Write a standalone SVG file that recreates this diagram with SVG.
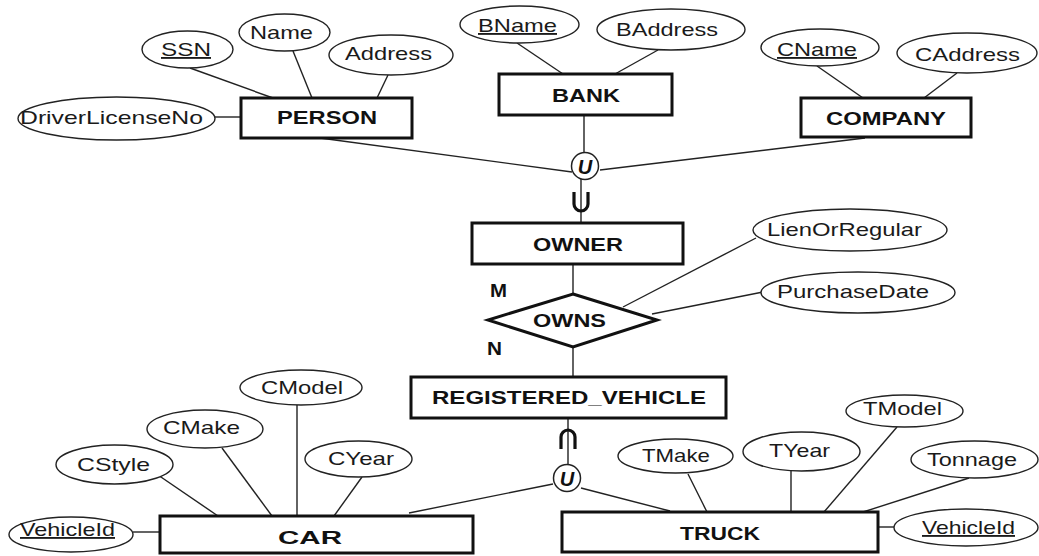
<svg xmlns="http://www.w3.org/2000/svg" width="1039" height="556" viewBox="0 0 1039 556">
  <style>
    .ent { fill: #fff; stroke: #111; stroke-width: 3; }
    .rel { fill: #fff; stroke: #111; stroke-width: 3; stroke-linejoin: miter; }
    .attr { fill: #fff; stroke: #222; stroke-width: 1.4; }
    .ln { stroke: #222; stroke-width: 1.4; fill: none; }
    .sym { stroke: #111; stroke-width: 3.2; fill: none; }
    .op { fill: #fff; stroke: #222; stroke-width: 1.5; }
    text { font-family: "Liberation Sans", Arial, Helvetica, sans-serif; font-size: 18.5px; fill: #1a1a1a; }
    .b { font-weight: bold; fill: #111; }
    .key { text-decoration: underline; }
    .opt { font-weight: bold; font-style: italic; font-size: 20px; fill: #111; }
  </style>

  <!-- connectors -->
  <g id="connectors">
    <!-- PERSON attributes -->
    <line class="ln" x1="190" y1="68" x2="273" y2="98"/>
    <line class="ln" x1="293" y1="51" x2="312" y2="98"/>
    <line class="ln" x1="388" y1="75" x2="377" y2="98"/>
    <line class="ln" x1="215" y1="117" x2="241" y2="117"/>
    <!-- BANK attributes -->
    <line class="ln" x1="517" y1="43" x2="563" y2="74"/>
    <line class="ln" x1="658" y1="50" x2="615" y2="74"/>
    <!-- COMPANY attributes -->
    <line class="ln" x1="817" y1="66" x2="863" y2="98"/>
    <line class="ln" x1="957" y1="73" x2="924" y2="98"/>
    <!-- union into OWNER -->
    <line class="ln" x1="320" y1="138" x2="572" y2="172"/>
    <line class="ln" x1="865" y1="138" x2="600" y2="170"/>
    <line class="ln" x1="584" y1="115" x2="584" y2="153"/>
    <line class="ln" x1="581" y1="179" x2="581" y2="223"/>
    <path class="sym" d="M574,192 V204 A7,7 0 0 0 588,204 V192"/>
    <circle class="op" cx="585" cy="166" r="13.5"/>
    <text class="opt" x="585" y="173.5" text-anchor="middle">U</text>
    <!-- OWNS relationship -->
    <line class="ln" x1="573" y1="264" x2="573" y2="294"/>
    <line class="ln" x1="573" y1="347" x2="573" y2="377"/>
    <line class="ln" x1="623" y1="307" x2="756" y2="238"/>
    <line class="ln" x1="652" y1="314" x2="763" y2="292"/>
    <text class="b" x="490" y="297" textLength="17" lengthAdjust="spacingAndGlyphs">M</text>
    <text class="b" x="487" y="355" textLength="15" lengthAdjust="spacingAndGlyphs">N</text>
    <!-- union below REGISTERED_VEHICLE -->
    <line class="ln" x1="568" y1="418" x2="568" y2="465"/>
    <path class="sym" d="M561,449 V437 A7,7 0 0 1 575,437 V449"/>
    <line class="ln" x1="553" y1="484" x2="409" y2="513"/>
    <line class="ln" x1="581" y1="488" x2="670" y2="511"/>
    <circle class="op" cx="567" cy="478" r="13.5"/>
    <text class="opt" x="567" y="485.5" text-anchor="middle">U</text>
    <!-- CAR attributes -->
    <line class="ln" x1="297" y1="405" x2="297" y2="516"/>
    <line class="ln" x1="222" y1="448" x2="272" y2="516"/>
    <line class="ln" x1="158" y1="475" x2="218" y2="516"/>
    <line class="ln" x1="362" y1="477" x2="334" y2="516"/>
    <line class="ln" x1="133" y1="532" x2="160" y2="532"/>
    <!-- TRUCK attributes -->
    <line class="ln" x1="688" y1="474" x2="707" y2="512"/>
    <line class="ln" x1="791" y1="471" x2="791" y2="512"/>
    <line class="ln" x1="897" y1="427" x2="824" y2="512"/>
    <line class="ln" x1="969" y1="478" x2="863" y2="512"/>
    <line class="ln" x1="878" y1="527" x2="894" y2="527"/>
  </g>

  <!-- entities -->
  <g id="person">
    <rect class="ent" x="241" y="98" width="171" height="40"/>
    <text class="b" x="277" y="124" textLength="100" lengthAdjust="spacingAndGlyphs">PERSON</text>
  </g>
  <g id="bank">
    <rect class="ent" x="499" y="74" width="173" height="41"/>
    <text class="b" x="552" y="102" textLength="68" lengthAdjust="spacingAndGlyphs">BANK</text>
  </g>
  <g id="company">
    <rect class="ent" x="801" y="98" width="170" height="39"/>
    <text class="b" x="826" y="125" textLength="120" lengthAdjust="spacingAndGlyphs">COMPANY</text>
  </g>
  <g id="owner">
    <rect class="ent" x="472" y="223" width="211" height="41"/>
    <text class="b" x="533" y="251" textLength="90" lengthAdjust="spacingAndGlyphs">OWNER</text>
  </g>
  <g id="owns">
    <polygon class="rel" points="573,294 657,320 573,347 488,320"/>
    <text class="b" x="533" y="327" textLength="73" lengthAdjust="spacingAndGlyphs">OWNS</text>
  </g>
  <g id="registered-vehicle">
    <rect class="ent" x="411" y="377" width="315" height="41"/>
    <text class="b" x="432" y="404" textLength="274" lengthAdjust="spacingAndGlyphs">REGISTERED_VEHICLE</text>
  </g>
  <g id="car">
    <rect class="ent" x="160" y="516" width="313" height="37"/>
    <text class="b" x="278" y="544" textLength="64" lengthAdjust="spacingAndGlyphs">CAR</text>
  </g>
  <g id="truck">
    <rect class="ent" x="562" y="512" width="316" height="40"/>
    <text class="b" x="680" y="540" textLength="80" lengthAdjust="spacingAndGlyphs">TRUCK</text>
  </g>

  <!-- attributes -->
  <g id="attr-ssn">
    <ellipse class="attr" cx="187.5" cy="49.5" rx="45.5" ry="18.5"/>
    <text class="key" x="161" y="56" textLength="50" lengthAdjust="spacingAndGlyphs">SSN</text>
  </g>
  <g id="attr-name">
    <ellipse class="attr" cx="284.5" cy="32.5" rx="45.5" ry="18.5"/>
    <text x="250" y="39" textLength="63" lengthAdjust="spacingAndGlyphs">Name</text>
  </g>
  <g id="attr-address">
    <ellipse class="attr" cx="391" cy="55" rx="62" ry="20"/>
    <text x="345" y="60" textLength="87" lengthAdjust="spacingAndGlyphs">Address</text>
  </g>
  <g id="attr-driverlicenseno">
    <ellipse class="attr" cx="116.5" cy="118.5" rx="98.5" ry="21.5"/>
    <text x="20" y="124" textLength="183" lengthAdjust="spacingAndGlyphs">DriverLicenseNo</text>
  </g>
  <g id="attr-bname">
    <ellipse class="attr" cx="519.5" cy="24.5" rx="59.5" ry="18.5"/>
    <text class="key" x="478" y="32" textLength="79" lengthAdjust="spacingAndGlyphs">BName</text>
  </g>
  <g id="attr-baddress">
    <ellipse class="attr" cx="671" cy="29.5" rx="74" ry="20.5"/>
    <text x="616" y="36" textLength="102" lengthAdjust="spacingAndGlyphs">BAddress</text>
  </g>
  <g id="attr-cname">
    <ellipse class="attr" cx="820" cy="47.5" rx="59" ry="18.5"/>
    <text class="key" x="777" y="56" textLength="80" lengthAdjust="spacingAndGlyphs">CName</text>
  </g>
  <g id="attr-caddress">
    <ellipse class="attr" cx="967" cy="53" rx="70" ry="20"/>
    <text x="915" y="61" textLength="105" lengthAdjust="spacingAndGlyphs">CAddress</text>
  </g>
  <g id="attr-lienorregular">
    <ellipse class="attr" cx="850" cy="230" rx="97" ry="21"/>
    <text x="767" y="236" textLength="155" lengthAdjust="spacingAndGlyphs">LienOrRegular</text>
  </g>
  <g id="attr-purchasedate">
    <ellipse class="attr" cx="858" cy="292.5" rx="97" ry="20.5"/>
    <text x="777" y="298" textLength="152" lengthAdjust="spacingAndGlyphs">PurchaseDate</text>
  </g>
  <g id="attr-cmodel">
    <ellipse class="attr" cx="301" cy="387.5" rx="61" ry="17.5"/>
    <text x="261" y="394" textLength="82" lengthAdjust="spacingAndGlyphs">CModel</text>
  </g>
  <g id="attr-cmake">
    <ellipse class="attr" cx="205" cy="429" rx="58" ry="19"/>
    <text x="163" y="434" textLength="77" lengthAdjust="spacingAndGlyphs">CMake</text>
  </g>
  <g id="attr-cstyle">
    <ellipse class="attr" cx="114.5" cy="464.5" rx="58.5" ry="19.5"/>
    <text x="77" y="471" textLength="73" lengthAdjust="spacingAndGlyphs">CStyle</text>
  </g>
  <g id="attr-cyear">
    <ellipse class="attr" cx="358.5" cy="459" rx="53.5" ry="18"/>
    <text x="328" y="465" textLength="66" lengthAdjust="spacingAndGlyphs">CYear</text>
  </g>
  <g id="attr-car-vehicleid">
    <ellipse class="attr" cx="71" cy="534.5" rx="62" ry="17.5"/>
    <text class="key" x="20" y="536" textLength="95" lengthAdjust="spacingAndGlyphs">VehicleId</text>
  </g>
  <g id="attr-tmake">
    <ellipse class="attr" cx="675.5" cy="456" rx="57.5" ry="17"/>
    <text x="642" y="462" textLength="68" lengthAdjust="spacingAndGlyphs">TMake</text>
  </g>
  <g id="attr-tyear">
    <ellipse class="attr" cx="801.5" cy="451.5" rx="58.5" ry="19.5"/>
    <text x="769" y="457" textLength="61" lengthAdjust="spacingAndGlyphs">TYear</text>
  </g>
  <g id="attr-tmodel">
    <ellipse class="attr" cx="904.5" cy="411" rx="58.5" ry="16"/>
    <text x="863" y="415" textLength="79" lengthAdjust="spacingAndGlyphs">TModel</text>
  </g>
  <g id="attr-tonnage">
    <ellipse class="attr" cx="974.5" cy="459.5" rx="63.5" ry="18.5"/>
    <text x="927" y="466" textLength="90" lengthAdjust="spacingAndGlyphs">Tonnage</text>
  </g>
  <g id="attr-truck-vehicleid">
    <ellipse class="attr" cx="966" cy="527.5" rx="72" ry="18.5"/>
    <text class="key" x="922" y="534" textLength="93" lengthAdjust="spacingAndGlyphs">VehicleId</text>
  </g>
</svg>
